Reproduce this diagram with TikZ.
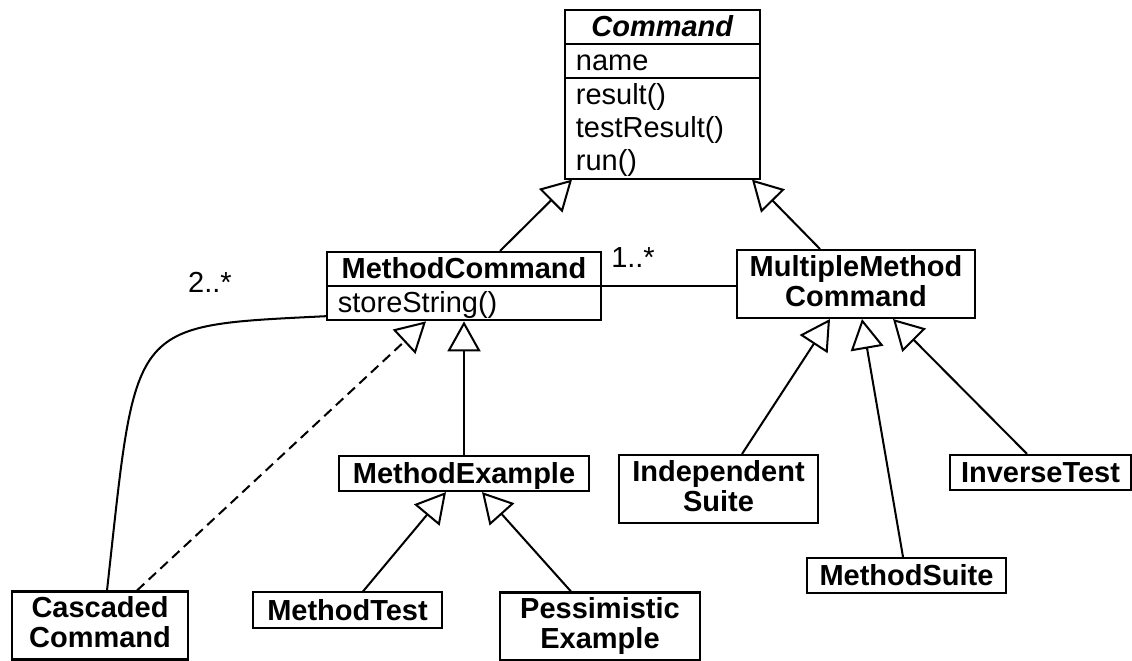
\documentclass[tikz,border=0pt]{standalone}
\usepackage{fontspec}
\setmainfont{Liberation Sans}
\usetikzlibrary{arrows.meta,shapes.multipart}
\newcommand\umlfont{\fontsize{16.5pt}{18.8pt}\selectfont}
\newcommand\boxfont{\fontsize{16.5pt}{17pt}\selectfont\bfseries}
\newcommand\ustrut{\rule[-0.2\baselineskip]{0pt}{\dimexpr\baselineskip-1.1pt\relax}}
\newcommand\bstrut{\rule[-3.6pt]{0pt}{19pt}}

\tikzset{
  box/.style={draw, line width=1.15pt, inner xsep=6pt, inner ysep=0.5pt, font=\boxfont,
    align=center, execute at begin node=\bstrut, execute at end node=\bstrut},
  twoline/.style={box, minimum height=1.36cm},
  splitbox/.style={draw, line width=1.15pt, inner xsep=6.2pt, inner ysep=0.3pt, font=\umlfont,
    align=left, rectangle split, anchor=north},
  inherit/.style={line width=1.15pt, -{Triangle[open,length=0.6cm,width=0.66cm]}},
  realize/.style={inherit, dash pattern=on 5.7pt off 3.4pt},
  assoc/.style={line width=1.15pt},
  mult/.style={font=\umlfont}
}

\begin{document}
\begin{tikzpicture}[x=0.02cm,y=-0.02cm]
\useasboundingbox (0,0) rectangle (1132,661);
% classes
\node[splitbox, rectangle split parts=3, rectangle split part align={center,left,left}, minimum width=3.9cm] (cmd) at (662.5,9)
  {\ustrut\textbf{\textit{Command}}\nodepart{two}\ustrut name\nodepart{three}\ustrut result()\\\ustrut testResult()\\\ustrut run()};
\node[splitbox, rectangle split parts=2, rectangle split part align={center,left}, minimum width=5.48cm] (mcmd) at (464,251)
  {\ustrut\textbf{MethodCommand}\nodepart{two}\ustrut storeString()};
\node[twoline, minimum width=4.76cm] (mmc) at (856,284) {MultipleMethod\\Command};
\node[box, minimum width=5.02cm] (mex) at (464,473.5) {MethodExample};
\node[box, minimum width=3.78cm] (mtest) at (347.5,610) {MethodTest};
\node[twoline, minimum width=3.52cm] (casc) at (100,625.5) {Cascaded\\Command};
\node[twoline, minimum width=4cm] (pess) at (600,626.5) {Pessimistic\\Example};
\node[twoline, minimum width=3.98cm] (indep) at (718.5,489) {Independent\\Suite};
\node[box, minimum width=3.98cm] (msuite) at (906.5,575.5) {MethodSuite};
\node[box, minimum width=3.58cm] (inv) at (1040.5,472.5) {InverseTest};
% generalisations
\draw[inherit] ([shift={(36,0)}]mcmd.north) -- ([shift={(-90.5,0)}]cmd.south);
\draw[inherit] ([shift={(-36,0)}]mmc.north) -- ([shift={(89.5,0)}]cmd.south);
\draw[inherit] (mex.north) -- (mex.north |- mcmd.south);
\draw[realize] ([shift={(37,0)}]casc.north) -- ([shift={(-38,0)}]mcmd.south);
\draw[inherit] ([shift={(15.5,0)}]mtest.north) -- ([shift={(-18,0)}]mex.south);
\draw[inherit] ([shift={(-29,0)}]pess.north) -- ([shift={(18,0)}]mex.south);
\draw[inherit] ([shift={(23.5,0)}]indep.north) -- ([shift={(-26,0)}]mmc.south);
\draw[inherit] ([shift={(-3.5,0)}]msuite.north) -- ([shift={(6,0)}]mmc.south);
\draw[inherit] ([shift={(-13.5,0)}]inv.north) -- ([shift={(37,0)}]mmc.south);
% associations
\draw[assoc] (mcmd.east) -- (mcmd.east -| mmc.west);
\draw[assoc] ([shift={(0,30)}]mcmd.west) .. controls +(-200,10) and +(30,-270) .. ([shift={(7,0)}]casc.north);
\node[mult] (m1) at (633,258) {1..*};
\node[mult] (m2) at (210,282) {2..*};
\end{tikzpicture}
\end{document}
